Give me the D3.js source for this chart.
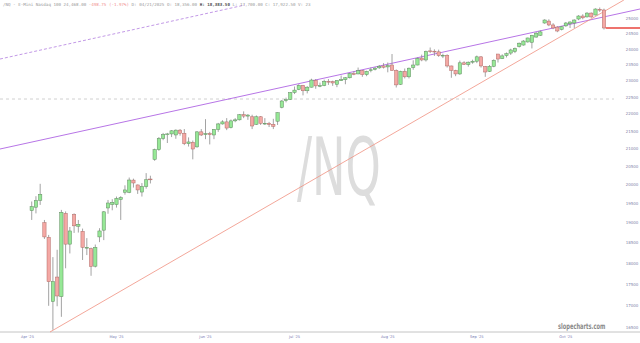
<!DOCTYPE html>
<html>
<head>
<meta charset="utf-8">
<script src="https://cdn.jsdelivr.net/npm/d3@7"></script>
<style>
  body { margin: 0; background: #fff; }
  svg { display: block; }
</style>
</head>
<body>
<div id="chart"></div>
<script>
// Chart size
const width = 640;
const height = 343;

// Trading days (2025), one per candle
const dates = [
  "03-31",
  "04-01","04-02","04-03","04-04","04-07","04-08","04-09","04-10","04-11","04-14","04-15","04-16","04-17","04-21","04-22","04-23","04-24","04-25","04-28","04-29","04-30",
  "05-01","05-02","05-05","05-06","05-07","05-08","05-09","05-12","05-13","05-14","05-15","05-16","05-19","05-20","05-21","05-22","05-23","05-27","05-28","05-29","05-30",
  "06-02","06-03","06-04","06-05","06-06","06-09","06-10","06-11","06-12","06-13","06-16","06-17","06-18","06-19","06-20","06-23","06-24","06-25","06-26","06-27","06-30",
  "07-01","07-02","07-03","07-07","07-08","07-09","07-10","07-11","07-14","07-15","07-16","07-17","07-18","07-21","07-22","07-23","07-24","07-25","07-28","07-29","07-30","07-31",
  "08-01","08-04","08-05","08-06","08-07","08-08","08-11","08-12","08-13","08-14","08-15","08-18","08-19","08-20","08-21","08-22","08-25","08-26","08-27","08-28","08-29",
  "09-02","09-03","09-04","09-05","09-08","09-09","09-10","09-11","09-12","09-15","09-16","09-17","09-18","09-19","09-22","09-23","09-24","09-25","09-26","09-29","09-30",
  "10-01","10-02","10-03","10-06","10-07","10-08","10-09","10-10"
];

const open = [
  19320,
  19410,19590,19010,18640,17100,17670,17210,19250,18470,19220,18920,18790,18370,18356,17930,18650,18820,19390,19480,19480,19610,
  19805,19800,20130,20000,19810,19955,20160,20700,20970,21290,21400,21420,21390,21530,21440,21140,21180,21050,21480,21400,21430,
  21390,21550,21710,21770,21600,21800,21830,21980,21940,21920,21700,21920,21730,21730,21700,21790,22200,22400,22440,22650,22740,
  22860,22700,22810,23020,22850,22860,22990,22980,22900,23010,23040,23100,23230,23220,23320,23200,23330,23360,23410,23470,23440,23500,
  23330,22900,23300,23130,23420,23500,23720,23660,23950,23940,23920,23800,23810,23470,23330,23220,23570,23510,23590,23620,23760,
  23450,23300,23460,23850,23700,23800,23880,23930,24090,24140,24240,24230,24400,24460,24866,24930,24800,24730,24650,24770,24840,
  24866,25000,25100,25070,25200,25135,25330,25304
];
const high = [
  19560,
  19700,20030,19080,18700,18150,18330,19340,19300,18900,19250,19080,18860,18620,18383.5,18460,18870,19310,19600,19620,19690,19700,
  19990,20200,20170,20010,20050,20320,20250,21000,21330,21450,21450,21530,21550,21560,21560,21320,21230,21500,21560,21850,21480,
  21560,21740,21820,21880,21840,21880,22000,22080,22000,21980,21960,21940,21880,21770,21860,22050,22420,22490,22660,22830,22900,
  22880,22840,23070,23060,22950,23040,23060,23010,23030,23170,23120,23250,23300,23420,23340,23320,23420,23440,23500,23560,23580,23850,
  23360,23320,23390,23420,23650,23740,23830,23960,24060,24000,23990,23860,23840,23480,23350,23640,23620,23610,23670,23800,23780,
  23470,23500,23680,23850,23840,23900,24020,24060,24220,24300,24380,24470,24560,24620,24990,24990,24860,24760,24760,24900,24920,
  24990,25130,25160,25230,25220,25360,25390,25350
];
const low = [
  19080,
  19250,19470,18600,17000,16460,16990,16750,17880,18240,18750,18760,18080,18200,17700,17900,18520,18570,19240,19330,19400,19080,
  19740,19780,19930,19760,19690,19900,20040,20660,20940,21240,21160,21330,21280,21370,21100,21060,20700,21030,21360,21270,21120,
  21270,21480,21690,21530,21580,21760,21810,21880,21830,21560,21680,21680,21680,21620,21560,21680,22170,22350,22420,22600,22720,
  22560,22620,22800,22760,22810,22840,22880,22850,22810,23000,22900,23080,23180,23210,23130,23150,23270,23330,23380,23390,23270,23320,
  22800,22880,23080,23080,23350,23490,23620,23610,23880,23790,23760,23720,23420,23100,23150,23190,23500,23450,23540,23560,23420,
  23130,23280,23430,23580,23690,23740,23820,23880,24060,24120,24220,24030,24380,24440,24840,24760,24660,24560,24620,24740,24700,
  24700,24960,24990,25050,25040,25120,25240,24650
];
const close = [
  19424,
  19583,19750,18650,17560,17560,17226,19278,18470,18800,18930,18970,18390,18390,17922.5,18390,18800,19290,19520,19540,19640,19660,
  19866,20133,20053,19866,19955,20140,20150,20970,21290,21400,21420,21510,21530,21440,21140,21190,20990,21480,21390,21430,21400,
  21550,21710,21770,21590,21800,21830,21980,21940,21970,21650,21920,21730,21730,21690,21640,22040,22390,22430,22640,22720,22860,
  22700,22810,23030,22850,22860,22990,22980,22940,23010,23040,23100,23230,23210,23320,23200,23300,23350,23400,23460,23430,23480,23330,
  22880,23300,23130,23400,23500,23710,23660,23930,23940,23920,23800,23810,23470,23330,23220,23570,23520,23590,23620,23760,23470,
  23280,23460,23650,23690,23790,23860,23980,24030,24200,24270,24370,24460,24530,24570,24966,24800,24700,24600,24740,24866,24900,
  24966,25100,25040,25200,25070,25338,25300,24700
];

// Right-hand price labels
const priceTicks = [25000, 24500, 24000, 23500, 23000, 22500, 22000, 21500, 21000, 20500, 20000, 19500, 19000, 18500, 18000, 17500, 17000, 16500];

// Month labels on the time axis
const monthKeys = ["04", "05", "06", "07", "08", "09", "10"];
const monthLabels = ["Apr '25", "May '25", "Jun '25", "Jul '25", "Aug '25", "Sep '25", "Oct '25"];

// Drawn lines: [bar index, price] endpoints
const channelTop = [[-7.48, 23690], [50.3, 25475]];
const channelBottom = [[-7.48, 20990], [143.5, 25338]];
const supportLine = [[4.32, 16412], [139.7, 25647]];
const priorHigh = 22450;

// Header text pieces
const headerParts = [
  { t: "/NQ - E-Mini Nasdaq 100 24,468.00 ", c: "#9a9a9a", w: "normal" },
  { t: "-498.75 (-1.97%)", c: "#f08c8c", w: "normal" },
  { t: " D: 04/21/2025 O: 18,356.00 ", c: "#9a9a9a", w: "normal" },
  { t: "H: 18,383.50", c: "#555", w: "bold" },
  { t: " L: 17,700.00 C: 17,922.50 V: 23", c: "#9a9a9a", w: "normal" }
];

const svg = d3.select("#chart")
  .append("svg")
  .attr("width", width)
  .attr("height", height);

// Scales
const x = d3.scaleLinear().domain([-7.48, 143.5]).range([0, 640]);
const y = d3.scaleLog().domain([16500, 25000]).range([328, 19]);
const step = x(1) - x(0);

// Watermark (squeezed sideways like the source)
svg.append("g")
  .attr("transform", "translate(297,195) scale(0.56,1)")
  .append("text")
  .attr("font-family", "DejaVu Sans")
  .attr("font-size", 80)
  .attr("fill", "#dddddd")
  .text("/NQ");

// Bottom axis line
svg.append("line")
  .attr("x1", 0).attr("x2", width)
  .attr("y1", 332).attr("y2", 332)
  .attr("stroke", "#c4c4c4")
  .attr("stroke-width", 1);

// Dashed horizontal level
svg.append("line")
  .attr("x1", 0).attr("x2", 614)
  .attr("y1", y(priorHigh)).attr("y2", y(priorHigh))
  .attr("stroke", "#c4c4c4")
  .attr("stroke-width", 0.8)
  .attr("stroke-dasharray", "3,3");

const line = d3.line().x(d => x(d[0])).y(d => y(d[1]));

svg.append("path")
  .datum(channelTop)
  .attr("d", line)
  .attr("fill", "none")
  .attr("stroke", "#b27fe0")
  .attr("stroke-width", 0.8)
  .attr("stroke-dasharray", "3,2");

svg.append("path")
  .datum(channelBottom)
  .attr("d", line)
  .attr("fill", "none")
  .attr("stroke", "#a452e0")
  .attr("stroke-width", 0.8);

svg.append("path")
  .datum(supportLine)
  .attr("d", line)
  .attr("fill", "none")
  .attr("stroke", "#f09080")
  .attr("stroke-width", 0.8);

// Candles
const bars = dates.map((d, i) => ({ i, o: open[i], h: high[i], l: low[i], c: close[i] }));
const bw = step * 0.78;

const candle = svg.append("g").selectAll("g")
  .data(bars)
  .enter()
  .append("g");

candle.append("line")
  .attr("x1", d => x(d.i)).attr("x2", d => x(d.i))
  .attr("y1", d => y(d.h)).attr("y2", d => y(d.l))
  .attr("stroke", "#8c8c8c")
  .attr("stroke-width", 0.8);

candle.append("rect")
  .attr("x", d => x(d.i) - bw / 2)
  .attr("width", bw)
  .attr("y", d => y(Math.max(d.o, d.c)))
  .attr("height", d => Math.max(0.8, Math.abs(y(d.o) - y(d.c))))
  .attr("fill", d => d.c >= d.o ? "#96e896" : "#f4a8a4")
  .attr("stroke", d => d.c >= d.o ? "#5f8a5f" : "#b06a66")
  .attr("stroke-width", 0.5);

// Last price line
const last = bars[bars.length - 1];
svg.append("line")
  .attr("x1", x(last.i) + bw / 2).attr("x2", width)
  .attr("y1", y(last.c)).attr("y2", y(last.c))
  .attr("stroke", "#e8443c")
  .attr("stroke-width", 1.6);

// Price labels
svg.append("g").selectAll("text")
  .data(priceTicks)
  .enter()
  .append("text")
  .attr("x", 632)
  .attr("y", d => y(d) + 1.4)
  .attr("text-anchor", "middle")
  .attr("font-family", "DejaVu Sans")
  .attr("font-size", 4)
  .attr("fill", "#8486aa")
  .text(d => d);

// Month labels, centred two bars before the month's first bar
const monthIdx = monthKeys.map(m => dates.findIndex(d => d.startsWith(m)));
svg.append("g").selectAll("text")
  .data(monthIdx)
  .enter()
  .append("text")
  .attr("x", d => x(d - 2))
  .attr("y", 338)
  .attr("text-anchor", "middle")
  .attr("font-family", "DejaVu Sans")
  .attr("font-size", 3.6)
  .attr("fill", "#7476b0")
  .text((d, k) => monthLabels[k]);

// Brand
svg.append("g")
  .attr("transform", "translate(558,328.5) scale(0.64,1)")
  .append("text")
  .attr("font-family", "DejaVu Sans")
  .attr("font-weight", "bold")
  .attr("font-size", 8)
  .attr("fill", "#8a8a8a")
  .text("slopecharts.com");

// Header
const header = svg.append("text")
  .attr("x", 3)
  .attr("y", 6)
  .attr("font-family", "DejaVu Sans Mono")
  .attr("font-size", 4.2);

headerParts.forEach(p => {
  header.append("tspan")
    .attr("fill", p.c)
    .attr("font-weight", p.w)
    .text(p.t);
});
</script>
</body>
</html>
